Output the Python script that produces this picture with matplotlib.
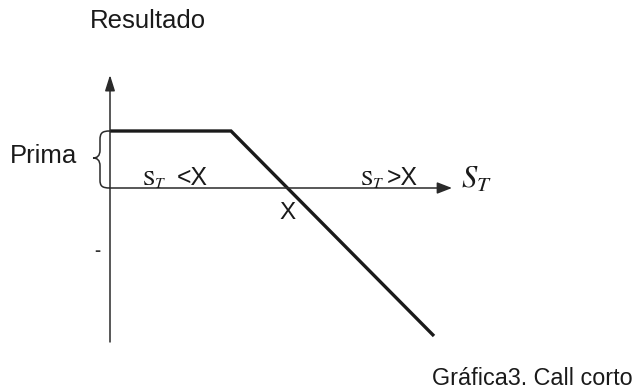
import matplotlib.pyplot as plt
from matplotlib.path import Path
from matplotlib.patches import PathPatch

# payoff of a short call, units measured from the origin of the sketch
s_t = [0, 121, 324]
resultado = [57, 57, -148]
strike = 177
prima = 57
x_axis_end = 342
y_axis_top = 113
y_axis_bottom = -154

titulo = 'Resultado'
nota = 'Gráfica3. Call corto'
ink = '#1a1a1a'
sans = 'Liberation Sans'

fig = plt.figure(figsize=(6.36, 3.91), dpi=100)
ax = fig.add_axes([0, 0, 1, 1])
ax.set_xlim(-110, 526)
ax.set_ylim(-203, 188)
ax.axis('off')

# axes with arrow heads
ax.annotate('', xy=(0, y_axis_top), xytext=(0, y_axis_bottom),
            arrowprops=dict(arrowstyle='-|>,head_length=0.95,head_width=0.3',
                            mutation_scale=10, lw=1.1, color='#2a2a2a',
                            shrinkA=0, shrinkB=0))
ax.annotate('', xy=(x_axis_end, 0), xytext=(0, 0),
            arrowprops=dict(arrowstyle='-|>,head_length=0.9,head_width=0.35',
                            mutation_scale=10, lw=1.1, color='#2a2a2a',
                            shrinkA=0, shrinkB=0))

ax.plot(s_t, resultado, color=ink, lw=2.4, solid_joinstyle='miter',
        solid_capstyle='butt')

# brace for the premium
verts = [(0, prima), (-8, prima), (-10, prima - 2), (-10, prima - 9),
         (-10, prima - 19), (-10, prima - 25), (-13, prima - 27), (-17, prima - 27),
         (-13, prima - 27), (-10, prima - 29), (-10, prima - 35),
         (-10, 8), (-10, 2), (-8, 0), (0, 0)]
codes = [Path.MOVETO, Path.CURVE4, Path.CURVE4, Path.CURVE4,
         Path.LINETO, Path.CURVE4, Path.CURVE4, Path.CURVE4,
         Path.CURVE4, Path.CURVE4, Path.CURVE4,
         Path.LINETO, Path.CURVE4, Path.CURVE4, Path.CURVE4]
ax.add_patch(PathPatch(Path(verts, codes), fill=False, lw=1.1, ec='#2a2a2a'))

ax.text(-20, 160, titulo, fontsize=18.5, family=sans, color=ink, va='baseline')
ax.text(-100, 25, 'Prima', fontsize=18.5, family=sans, color=ink, va='baseline')

ax.text(32, 3, r'$\mathrm{S}_T$', fontsize=16, math_fontfamily='stix',
        color=ink, va='baseline')
ax.text(67, 3, '<X', fontsize=17.8, family=sans, color=ink, va='baseline')
ax.text(250, 3, r'$\mathrm{S}_T$', fontsize=16, math_fontfamily='stix',
        color=ink, va='baseline')
ax.text(277, 3, '>X', fontsize=17.8, family=sans, color=ink, va='baseline')
ax.text(351, 0, r'$S_T$', fontsize=22, math_fontfamily='stix',
        color=ink, va='baseline')

ax.text(strike + 1, -31, 'X', fontsize=17.5, family=sans, color=ink,
        ha='center', va='baseline')
ax.text(-13, -64, '-', fontsize=13, family=sans, color='#333333',
        fontweight='bold', ha='center', va='center')

ax.text(523, -197, nota, fontsize=16.8, family=sans, color=ink,
        ha='right', va='baseline')

fig.savefig('out.png', dpi=100)
